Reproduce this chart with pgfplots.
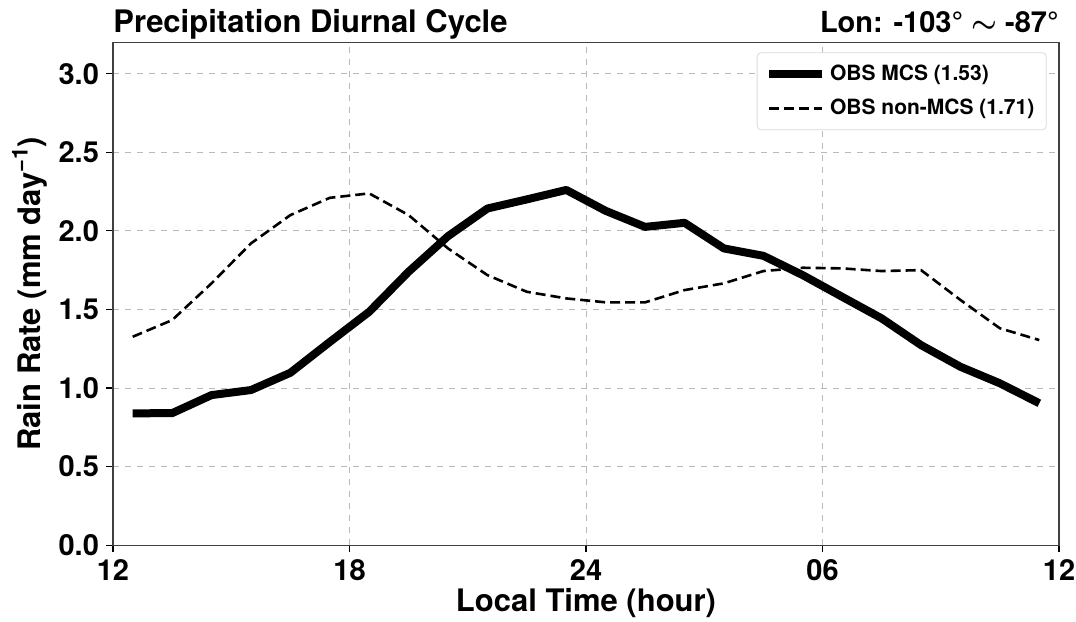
\documentclass[border=0pt]{standalone}
\usepackage{pgfplots}
\pgfplotsset{compat=1.18}
\usepackage{fontspec}
\setmainfont{TeX Gyre Heros}
\begin{document}
\begin{tikzpicture}
\useasboundingbox (0,0) rectangle (538pt,310.5pt);
\begin{axis}[
  at={(56.5pt,37.9pt)}, anchor=south west,
  scale only axis, width=473pt, height=251.5pt,
  xmin=12, xmax=36, ymin=0, ymax=3.2,
  clip mode=individual,
  xtick={12,18,24,30,36}, xticklabels={12,18,24,06,12},
  ytick={0,0.5,1,1.5,2,2.5,3},
  /pgf/number format/assume math mode=true,
  /pgf/number format/.cd, fixed, fixed zerofill, precision=1, /pgfplots/.cd,
  tick label style={font=\bfseries\fontsize{14.5}{16}\selectfont},
  tick align=outside, tick pos=left,
  major tick length=3.5pt,
  every tick/.style={black, line width=0.6pt},
  axis line style={black!75, line width=0.6pt},
  grid=major,
  grid style={dashed, gray!55, line width=0.4pt},
  xlabel={Local Time (hour)},
  ylabel={Rain Rate (mm day\raisebox{0.75ex}{\fontsize{11}{12}\selectfont −1})},
  label style={font=\bfseries\fontsize{15.5}{17}\selectfont},
  xlabel style={yshift=3pt},
  ylabel style={yshift=-1pt},
  legend style={at={(0.987,0.980)}, anchor=north east, draw=gray!30, rounded corners=2pt,
    font=\bfseries\fontsize{10.5}{12}\selectfont, row sep=4pt, inner xsep=4pt, inner ysep=4pt},
  legend cell align=left,
  legend image code/.code={\draw[#1] (0pt,0pt) -- (26.5pt,0pt);},
]
\addplot[black, line width=4pt, line join=round] coordinates {
(12.5,0.839)(13.5,0.840)(14.5,0.955)(15.5,0.987)(16.5,1.097)(17.5,1.293)
(18.5,1.485)(19.5,1.740)(20.5,1.966)(21.5,2.142)(22.5,2.200)(23.5,2.260)
(24.5,2.127)(25.5,2.025)(26.5,2.051)(27.5,1.888)(28.5,1.841)(29.5,1.718)
(30.5,1.580)(31.5,1.443)(32.5,1.273)(33.5,1.135)(34.5,1.030)(35.5,0.903)
};
\addlegendentry{OBS MCS (1.53)}
\addplot[black, line width=1.3pt, dash pattern=on 5pt off 2.5pt] coordinates {
(12.5,1.326)(13.5,1.432)(14.5,1.666)(15.5,1.920)(16.5,2.100)(17.5,2.210)
(18.5,2.238)(19.5,2.100)(20.5,1.888)(21.5,1.718)(22.5,1.612)(23.5,1.570)
(24.5,1.545)(25.5,1.545)(26.5,1.623)(27.5,1.666)(28.5,1.744)(29.5,1.765)
(30.5,1.761)(31.5,1.744)(32.5,1.750)(33.5,1.560)(34.5,1.380)(35.5,1.305)
};
\addlegendentry{OBS non-MCS (1.71)}
\node[anchor=base west, font=\bfseries\fontsize{15.5}{17}\selectfont, yshift=5pt, inner sep=0pt]
  at (rel axis cs:0,1) {Precipitation Diurnal Cycle};
\node[anchor=base east, font=\bfseries\fontsize{14.5}{16}\selectfont, yshift=5pt, inner sep=0pt]
  at (rel axis cs:1,1) {Lon: -103° {\boldmath$\sim$} -87°};
\end{axis}
\end{tikzpicture}
\end{document}
